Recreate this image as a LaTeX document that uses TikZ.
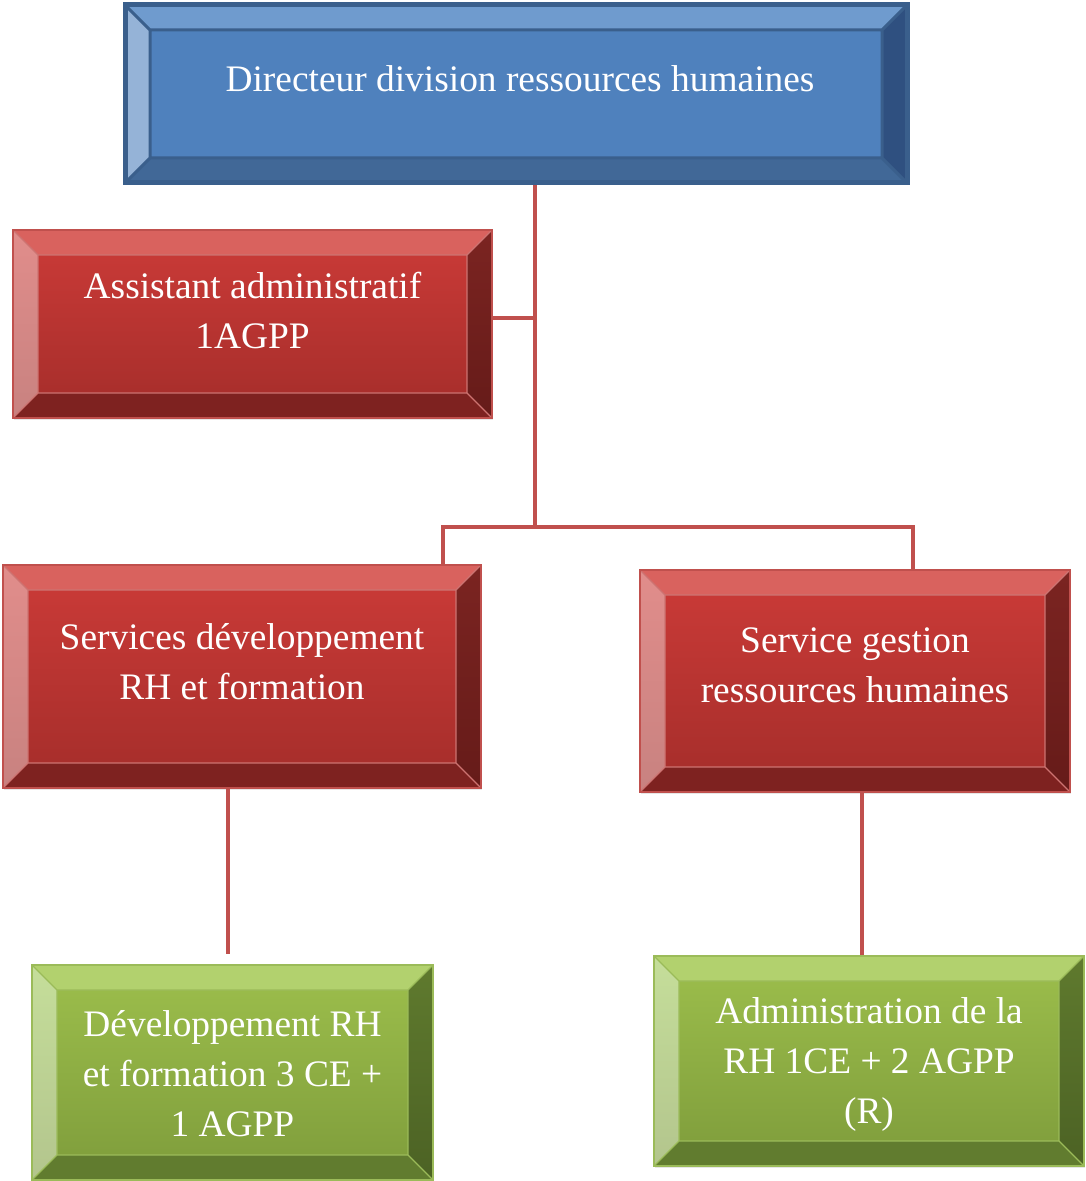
\documentclass[tikz,border=0pt]{standalone}
\usepackage{fontspec}
\setmainfont{Liberation Serif}
\usetikzlibrary{calc,positioning,shadows}

% colours of the three box families
\definecolor{blueface}{HTML}{4F81BD}
\definecolor{bluetop}{HTML}{6F9BCE}
\definecolor{blueleft}{HTML}{95B3D7}
\definecolor{bluebot}{HTML}{416897}
\definecolor{blueright}{HTML}{2F5080}
\definecolor{blueline}{HTML}{3A5F8C}
\definecolor{redfacetop}{HTML}{CC3B38}
\definecolor{redfacebot}{HTML}{A42D2A}
\definecolor{redtop}{HTML}{D9625E}
\definecolor{redlefttop}{HTML}{E18D8B}
\definecolor{redleftbot}{HTML}{C88280}
\definecolor{redbot}{HTML}{7E2220}
\definecolor{redrighttop}{HTML}{7B2421}
\definecolor{redrightbot}{HTML}{661B19}
\definecolor{redline}{HTML}{C0504D}
\definecolor{greenfacetop}{HTML}{9DBF4C}
\definecolor{greenfacebot}{HTML}{7E9C3B}
\definecolor{greentop}{HTML}{B2D16E}
\definecolor{greenlefttop}{HTML}{C5DE9A}
\definecolor{greenleftbot}{HTML}{B3C58D}
\definecolor{greenbot}{HTML}{617C2F}
\definecolor{greenrighttop}{HTML}{5F7A2E}
\definecolor{greenrightbot}{HTML}{4C6224}
\definecolor{greenline}{HTML}{9BBB59}

\tikzset{
  bevel/.style n args={7}{path picture={
    \coordinate (bnw) at (path picture bounding box.north west);
    \coordinate (bse) at (path picture bounding box.south east);
    \coordinate (bne) at (bse |- bnw);
    \coordinate (bsw) at (bnw |- bse);
    \coordinate (inw) at ($(bnw)+(12.5pt,-12.5pt)$);
    \coordinate (ine) at ($(bne)+(-12.5pt,-12.5pt)$);
    \coordinate (isw) at ($(bsw)+(12.5pt,12.5pt)$);
    \coordinate (ise) at ($(bse)+(-12.5pt,12.5pt)$);
    \fill[#1] (bnw) -- (bne) -- (ine) -- (inw) -- cycle;
    \shade[top color=#2,bottom color=#3] (bnw) -- (inw) -- (isw) -- (bsw) -- cycle;
    \fill[#4] (bsw) -- (isw) -- (ise) -- (bse) -- cycle;
    \shade[top color=#5,bottom color=#6] (bne) -- (bse) -- (ise) -- (ine) -- cycle;
    \draw[#7] (inw) rectangle (ise) (bnw) -- (inw) (bne) -- (ine) (bsw) -- (isw) (bse) -- (ise);
  }},
  bluebox/.style={draw=blueline,line width=2.5pt,fill=blueface,
    bevel={bluetop}{blueleft}{blueleft}{bluebot}{blueright}{blueright}{blueline,line width=1.5pt}},
  redbox/.style={draw=redline,line width=0.8pt,top color=redfacetop,bottom color=redfacebot,
    drop shadow={opacity=0.2,shadow xshift=0.6pt,shadow yshift=-1.2pt},
    bevel={redtop}{redlefttop}{redleftbot}{redbot}{redrighttop}{redrightbot}{redline!80!white,line width=0.6pt}},
  greenbox/.style={draw=greenline,line width=0.8pt,top color=greenfacetop,bottom color=greenfacebot,
    drop shadow={opacity=0.2,shadow xshift=0.6pt,shadow yshift=-1.2pt},
    bevel={greentop}{greenlefttop}{greenleftbot}{greenbot}{greenrighttop}{greenrightbot}{greenline,line width=0.6pt}},
  boxtext/.style={text=white,align=center,font=\fontsize{18.7}{25}\selectfont},
  conn/.style={draw=redline,line width=2pt},
}

\begin{document}
\begin{tikzpicture}[x=0.5pt,y=-0.5pt]
  \useasboundingbox (0,0) rectangle (1085,1181);
  \coordinate (hub) at (535,527);

  % boxes
  \node[bluebox,minimum width=391pt,minimum height=89pt,inner sep=0pt] (dir) at (516,94) {};
  \node[redbox,minimum width=239.5pt,minimum height=94pt,inner sep=0pt] (asst) at (252.5,324) {};
  \node[redbox,minimum width=239pt,minimum height=111.5pt,inner sep=0pt] (sdev) at (242,676.5) {};
  \node[redbox,minimum width=215pt,minimum height=111pt,inner sep=0pt] (sgest) at (855,681) {};
  \node[greenbox,minimum width=200.5pt,minimum height=107.5pt,inner sep=0pt] (devrh) at (232.5,1072.5) {};
  \node[greenbox,minimum width=215pt,minimum height=105pt,inner sep=0pt] (admrh) at (869,1061) {};

  % texts
  \node[boxtext,yshift=7.5pt] (dir-t) at ([xshift=2pt]dir.center) {Directeur division ressources humaines};
  \node[boxtext,yshift=6.5pt] (asst-t) at (asst.center) {Assistant administratif\\1AGPP};
  \node[boxtext,yshift=7.5pt] (sdev-t) at (sdev.center) {Services développement\\RH et formation};
  \node[boxtext,yshift=8pt] (sgest-t) at (sgest.center) {Service gestion\\ressources humaines};
  \node[boxtext,yshift=-0.5pt] (devrh-t) at (devrh.center) {Développement RH\\et formation 3 CE +\\1 AGPP};
  \node[boxtext,yshift=-1.5pt] (admrh-t) at (admrh.center) {Administration de la\\RH 1CE + 2 AGPP\\(R)};

  % connectors
  \draw[conn] (dir.south -| hub) -- (hub);
  \draw[conn] ([yshift=3pt]asst.east) -- ([yshift=3pt]asst.east -| hub);
  \draw[conn] (sdev.north -| 443,0) |- (hub) -| (sgest.north -| 913,0);
  \draw[conn,shorten >=5pt] (sdev.south -| 228,0) -- (devrh.north -| 228,0);
  \draw[conn] (sgest.south -| 862,0) -- (admrh.north -| 862,0);
\end{tikzpicture}
\end{document}
